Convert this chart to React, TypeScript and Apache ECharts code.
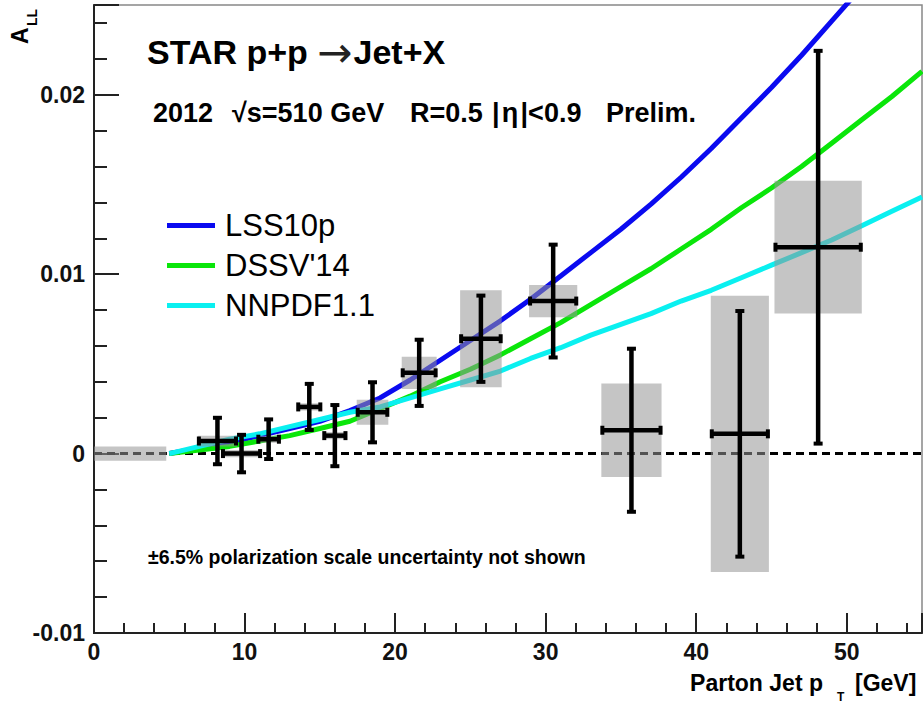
import React, { useEffect, useRef } from 'react';
import * as echarts from 'echarts';

// ---- axis ranges ----
const X_MIN = 0;
const X_MAX = 55;
const X_STEP = 10;
const Y_MIN = -0.01;
const Y_MAX = 0.025;
const Y_STEP = 0.01;

// ---- data points (STAR 2012) ----
const pointX = [8.2, 9.8, 11.6, 14.3, 16.0, 18.5, 21.6, 25.7, 30.5, 35.7, 42.9, 48.1];
const pointY = [0.0007, 0.0, 0.0008, 0.0026, 0.001, 0.0023, 0.0045, 0.0064, 0.0085, 0.0013, 0.0011, 0.0115];
const pointXErr = [1.3, 1.3, 0.75, 0.8, 0.77, 1.05, 1.16, 1.38, 1.6, 2.0, 1.93, 2.9];
const statErr = [0.00135, 0.0011, 0.00116, 0.00134, 0.00176, 0.00173, 0.0019, 0.00246, 0.0032, 0.0046, 0.0069, 0.011];
const sysErr = [0.0003, 0.0002, 0.0002, 0.0002, 0.0002, 0.0007, 0.0009, 0.0027, 0.0009, 0.0026, 0.0077, 0.0037];

// first (empty) bin systematic box: [center x, center y, half width, half height]
const firstBinBox = [2.4, 0.0, 2.4, 0.0004];

// ---- theory curves ----
const curveX = [5, 7, 9, 11, 13, 15, 17, 19, 21, 23, 25, 27, 29, 31, 33, 35, 37, 39, 41, 43, 45, 47, 49, 51, 53, 55];
const lss10p = [0, 0.0003, 0.0006, 0.001, 0.0014, 0.0018, 0.0024, 0.0031, 0.0041, 0.0052, 0.0063, 0.0074, 0.0086, 0.0099, 0.0112, 0.0125, 0.0139, 0.0154, 0.017, 0.0187, 0.0204, 0.0222, 0.0241, 0.026, 0.028, 0.03];
const dssv14 = [0, 0.0002, 0.0004, 0.0007, 0.001, 0.0014, 0.0018, 0.0025, 0.0032, 0.004, 0.0047, 0.0055, 0.0064, 0.0073, 0.0083, 0.0093, 0.0103, 0.0114, 0.0125, 0.0137, 0.0148, 0.016, 0.0173, 0.0186, 0.0199, 0.0213];
const nnpdf11 = [0, 0.0004, 0.0008, 0.0011, 0.0015, 0.0019, 0.0023, 0.0026, 0.0031, 0.0036, 0.0041, 0.0046, 0.0053, 0.0059, 0.0066, 0.0072, 0.0078, 0.0085, 0.0091, 0.0098, 0.0105, 0.0112, 0.0119, 0.0127, 0.0135, 0.0143];

const seriesNames = ['LSS10p', "DSSV'14", 'NNPDF1.1'];
const seriesColors = ['#0a0af0', '#0ae60a', '#0af0f0'];
const seriesValues = [lss10p, dssv14, nnpdf11];

// subtitle pieces: [text, x]
const subtitlePieces: [string, number][] = [
  ['2012', 153],
  ['\u221As=510 GeV', 232],
  ['R=0.5', 410],
  ['|\u200A\u03B7\u200A|<0.9', 492],
  ['Prelim.', 606],
];

const FONT = '"Liberation Sans", Arial, Helvetica, sans-serif';

function txt(text: string, x: number, y: number, font: string, align = 'left', extra: any = {}) {
  return {
    type: 'text',
    x,
    y,
    z: 100,
    ...extra,
    style: {
      text,
      font,
      fill: '#000',
      align,
      verticalAlign: 'middle',
      textAlign: align,
      textVerticalAlign: 'middle',
      ...(extra.style || {}),
    },
  };
}

function buildOption() {
  const axisColor = '#222';
  const curveSeries = seriesNames.map((name, k) => ({
    name,
    type: 'line',
    data: curveX.map((x, i) => [x, seriesValues[k][i]]),
    symbol: 'none',
    smooth: false,
    clip: true,
    z: 2,
    lineStyle: { color: seriesColors[k], width: 5, join: 'round' },
    itemStyle: { color: seriesColors[k] },
  }));

  const boxData = pointX.map((x, i) => [x, pointY[i], pointXErr[i], sysErr[i]]);
  boxData.unshift(firstBinBox);

  const errData = pointX.map((x, i) => [x, pointY[i], pointXErr[i], statErr[i]]);

  return {
    animation: false,
    backgroundColor: '#fff',
    grid: {
      left: 94,
      right: 1,
      top: 5,
      bottom: 73,
      show: true,
      borderColor: '#888',
      borderWidth: 1.5,
      backgroundColor: 'transparent',
    },
    legend: {
      orient: 'vertical',
      left: 162,
      top: 205,
      itemWidth: 48,
      itemHeight: 5,
      itemGap: 9,
      icon: 'rect',
      selectedMode: false,
      data: seriesNames,
      textStyle: { fontSize: 31, fontFamily: FONT, color: '#000', padding: [0, 0, 0, 5] },
    },
    xAxis: {
      type: 'value',
      min: X_MIN,
      max: X_MAX,
      interval: X_STEP,
      axisLine: { show: true, onZero: false, lineStyle: { color: axisColor, width: 2 } },
      axisTick: { show: true, inside: true, length: 20, lineStyle: { color: axisColor, width: 2 } },
      minorTick: { show: true, splitNumber: 5, length: 10, lineStyle: { color: axisColor, width: 2 } },
      splitLine: { show: false },
      axisLabel: {
        margin: 7,
        showMaxLabel: false,
        fontSize: 23,
        fontWeight: 'bold',
        fontFamily: FONT,
        color: '#111',
      },
    },
    yAxis: {
      type: 'value',
      min: Y_MIN,
      max: Y_MAX,
      interval: Y_STEP,
      axisLine: { show: true, onZero: false, lineStyle: { color: axisColor, width: 2 } },
      axisTick: { show: true, inside: true, length: 25, lineStyle: { color: axisColor, width: 2 } },
      minorTick: { show: true, splitNumber: 5, length: 13, lineStyle: { color: axisColor, width: 2 } },
      splitLine: { show: false },
      axisLabel: {
        margin: 9,
        showMaxLabel: false,
        fontSize: 23,
        fontWeight: 'bold',
        fontFamily: FONT,
        color: '#111',
      },
    },
    graphic: [
      {
        type: 'text',
        x: 147,
        y: 52,
        z: 100,
        style: {
          text: 'STAR p+p {arr|\u2192}Jet+X',
          font: `bold 34px ${FONT}`,
          fill: '#000',
          align: 'left',
          verticalAlign: 'middle',
          textAlign: 'left',
          textVerticalAlign: 'middle',
          rich: {
            arr: {
              fontFamily: '"DejaVu Sans", sans-serif',
              fontWeight: 'normal',
              fontSize: 42,
              fill: '#222',
              padding: [0, 1, 0, 0],
            },
          },
        },
      },
      ...subtitlePieces.map(([t, x]) => txt(t, x, 113, `bold 27px ${FONT}`)),
      txt('\u00B16.5% polarization scale uncertainty not shown', 148, 557, `bold 19.5px ${FONT}`),
      // x axis title
      txt('Parton Jet p', 823, 683, `bold 23px ${FONT}`, 'right'),
      txt('T', 837, 697, `bold 12px ${FONT}`),
      txt('[GeV]', 855, 683, `bold 23px ${FONT}`),
      // y axis title (rotated)
      txt('A', 20, 44, `bold 23px ${FONT}`, 'left', { rotation: Math.PI / 2 }),
      txt('LL', 32, 26, `bold 14px ${FONT}`, 'left', { rotation: Math.PI / 2 }),
    ],
    series: [
      {
        name: 'zero',
        type: 'line',
        data: [[X_MIN, 0], [X_MAX, 0]],
        symbol: 'none',
        silent: true,
        z: 1,
        lineStyle: { color: '#000', width: 3, type: [8, 5] },
      },
      ...curveSeries,
      {
        name: 'sys',
        type: 'custom',
        z: 3,
        silent: true,
        data: boxData,
        dimensions: ['x', 'y', 'ex', 'ey'],
        encode: { x: 0, y: 1 },
        renderItem: (params: any, api: any) => {
          const x = api.value(0);
          const y = api.value(1);
          const ex = api.value(2);
          const ey = api.value(3);
          const p1 = api.coord([x - ex, y + ey]);
          const p2 = api.coord([x + ex, y - ey]);
          return {
            type: 'rect',
            shape: { x: p1[0], y: p1[1], width: p2[0] - p1[0], height: p2[1] - p1[1] },
            style: { fill: 'rgba(150,150,150,0.55)', stroke: 'none' },
          };
        },
      },
      {
        name: 'stat',
        type: 'custom',
        z: 4,
        silent: true,
        data: errData,
        dimensions: ['x', 'y', 'ex', 'ey'],
        encode: { x: 0, y: 1 },
        renderItem: (params: any, api: any) => {
          const x = api.value(0);
          const y = api.value(1);
          const ex = api.value(2);
          const ey = api.value(3);
          const l = api.coord([x - ex, y]);
          const r = api.coord([x + ex, y]);
          const t = api.coord([x, y + ey]);
          const b = api.coord([x, y - ey]);
          const ls = { stroke: '#000', lineWidth: 4.5 };
          const cap = { fill: '#000' };
          return {
            type: 'group',
            children: [
              { type: 'line', shape: { x1: l[0], y1: l[1], x2: r[0], y2: r[1] }, style: ls },
              { type: 'line', shape: { x1: t[0], y1: t[1], x2: b[0], y2: b[1] }, style: ls },
              { type: 'rect', shape: { x: l[0] - 1, y: l[1] - 4.5, width: 4, height: 9 }, style: cap },
              { type: 'rect', shape: { x: r[0] - 3, y: r[1] - 4.5, width: 4, height: 9 }, style: cap },
              { type: 'rect', shape: { x: t[0] - 4.5, y: t[1] - 1, width: 9, height: 4 }, style: cap },
              { type: 'rect', shape: { x: b[0] - 4.5, y: b[1] - 3, width: 9, height: 4 }, style: cap },
            ],
          };
        },
      },
    ],
  };
}

export default function App() {
  const ref = useRef<HTMLDivElement>(null);
  useEffect(() => {
    if (!ref.current) return;
    const chart = echarts.init(ref.current, null, { renderer: 'svg' });
    chart.setOption(buildOption() as any);
    return () => {
      chart.dispose();
    };
  }, []);
  return (
    <div
      ref={ref}
      style={{ position: 'fixed', left: 0, top: 0, width: 923, height: 706, background: '#fff' }}
    />
  );
}
